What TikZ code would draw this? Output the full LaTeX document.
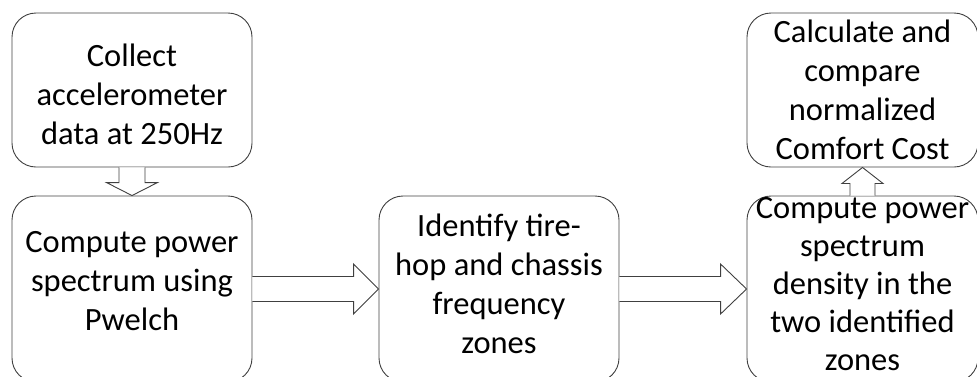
\documentclass[tikz,border=0pt]{standalone}
\usepackage{fontspec}
\setmainfont{Carlito}
\usetikzlibrary{calc}
\begin{document}
\begin{tikzpicture}[x=1pt,y=-1pt,
  stage/.style={draw=black!75, line width=0.9pt, rounded corners=24pt, inner sep=0pt},
  caption/.style={inner sep=0pt, align=center, font=\fontsize{32.5}{39}\selectfont},
  blockarrow/.style={draw=black!75, line width=0.9pt, fill=white, line join=miter}]
\useasboundingbox (0,0) rectangle (977,376);
\clip (0,0) rectangle (977,376);

% processing stages (frames)
\node[stage, minimum width=240pt, minimum height=154pt] (collect) at (132,90) {};
\node[stage, minimum width=240pt, minimum height=186pt] (pwelch) at (132,289) {};
\node[stage, minimum width=240pt, minimum height=186pt] (zones) at (499,289) {};
\node[stage, minimum width=231pt, minimum height=186pt] (psd) at (862.5,289) {};
\node[stage, minimum width=231pt, minimum height=154pt] (cost) at (862.5,90) {};

% stage captions
\node[caption] (collect-t) at ($(collect)+(0,4)$)
  {Collect\\accelerometer\\data at 250Hz};
\node[caption] (pwelch-t) at ($(pwelch)+(0,-8)$)
  {Compute power\\spectrum using\\Pwelch};
\node[caption] (zones-t) at ($(zones)+(0,-5)$)
  {Identify tire-\\hop and chassis\\frequency\\zones};
\node[caption, font=\fontsize{32.5}{38}\selectfont] (psd-t) at ($(psd)+(0,-5)$)
  {Compute power\\spectrum\\density in the\\two identified\\zones};
\node[caption] (cost-t) at (cost)
  {Calculate and\\compare\\normalized\\Comfort Cost};

% block arrows between stages
\draw[blockarrow] ($(collect.south)+(-13,0)$) -- ($(pwelch.north)+(-13,-13)$)
  -- ($(pwelch.north)+(-25.5,-13)$) -- (pwelch.north) -- ($(pwelch.north)+(25.5,-13)$)
  -- ($(pwelch.north)+(13,-13)$) -- ($(collect.south)+(13,0)$);

\draw[blockarrow] ($(pwelch.east)+(0,-12.5)$) -- ($(zones.west)+(-25,-12.5)$)
  -- ($(zones.west)+(-25,-25)$) -- (zones.west) -- ($(zones.west)+(-25,25)$)
  -- ($(zones.west)+(-25,12.5)$) -- ($(pwelch.east)+(0,12.5)$);

\draw[blockarrow] ($(zones.east)+(0,-12.5)$) -- ($(psd.west)+(-26,-12.5)$)
  -- ($(psd.west)+(-26,-25)$) -- (psd.west) -- ($(psd.west)+(-26,25)$)
  -- ($(psd.west)+(-26,12.5)$) -- ($(zones.east)+(0,12.5)$);

\draw[blockarrow] ($(psd.north)+(-12.5,0)$) -- ($(cost.south)+(-12.5,16)$)
  -- ($(cost.south)+(-20.5,16)$) -- (cost.south) -- ($(cost.south)+(20.5,16)$)
  -- ($(cost.south)+(12.5,16)$) -- ($(psd.north)+(12.5,0)$);
\end{tikzpicture}
\end{document}
